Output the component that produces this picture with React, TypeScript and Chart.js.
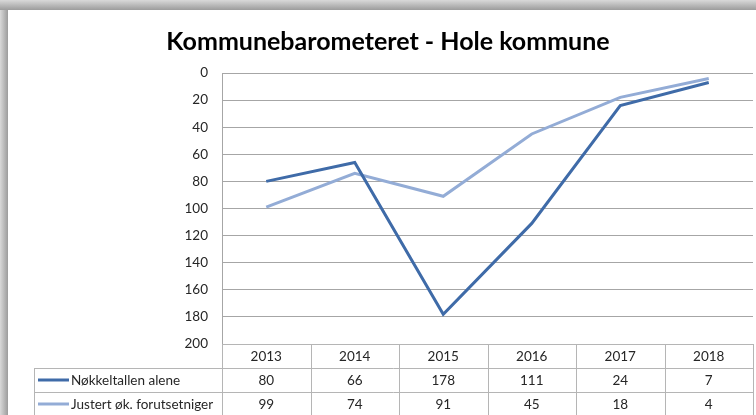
import React, { useEffect, useRef } from "react";
import { Chart, registerables } from "chart.js";

Chart.register(...registerables);

const TITLE = "Kommunebarometeret - Hole kommune";
const years = ["2013", "2014", "2015", "2016", "2017", "2018"];
const seriesNames = ["Nøkkeltallen alene", "Justert øk. forutsetniger"];
const nokkeltall = [80, 66, 178, 111, 24, 7];
const justert = [99, 74, 91, 45, 18, 4];
const seriesColors = ["#3f6ba8", "#93acd6"];

const FONT = "Lato, 'Open Sans', sans-serif";

const framePlugin = {
  id: "frame",
  beforeDraw(chart: any) {
    const { ctx, width, height } = chart;
    ctx.save();
    const gTop = ctx.createLinearGradient(0, 0, 0, 10);
    gTop.addColorStop(0, "#d9d9d9");
    gTop.addColorStop(1, "#9c9c9c");
    ctx.fillStyle = gTop;
    ctx.fillRect(0, 0, width, 10);
    const gLeft = ctx.createLinearGradient(0, 0, 8, 0);
    gLeft.addColorStop(0, "#d9d9d9");
    gLeft.addColorStop(1, "#9c9c9c");
    ctx.fillStyle = gLeft;
    ctx.fillRect(0, 10, 8, height);
    ctx.fillStyle = "#ffffff";
    ctx.fillRect(8, 10, width - 8, height - 10);
    ctx.fillStyle = "#000000";
    ctx.font = `bold 25px ${FONT}`;
    ctx.textAlign = "center";
    ctx.textBaseline = "middle";
    ctx.fillText(TITLE, 388, 42);
    ctx.restore();
  },
};

const tablePlugin = {
  id: "dataTable",
  afterDraw(chart: any) {
    const { ctx } = chart;
    const xs = chart.scales.x;
    const area = chart.chartArea;
    const n = years.length;
    const step = (area.right - area.left) / n;
    const top = area.bottom;
    const rowH = 24;
    const leftEdge = 34;
    const rows = [top, top + rowH, top + 2 * rowH, top + 3 * rowH];
    ctx.save();
    ctx.strokeStyle = "#b5b5b5";
    ctx.lineWidth = 1;
    ctx.beginPath();
    ctx.moveTo(area.left, Math.round(rows[0]) + 0.5);
    ctx.lineTo(area.right, Math.round(rows[0]) + 0.5);
    for (let i = 1; i < 4; i++) {
      ctx.moveTo(leftEdge, Math.round(rows[i]) + 0.5);
      ctx.lineTo(area.right, Math.round(rows[i]) + 0.5);
    }
    for (let k = 0; k <= n; k++) {
      const x = Math.round(area.left + k * step) + 0.5;
      ctx.moveTo(x, rows[0]);
      ctx.lineTo(x, rows[3]);
    }
    ctx.moveTo(leftEdge + 0.5, rows[1]);
    ctx.lineTo(leftEdge + 0.5, rows[3]);
    ctx.stroke();

    ctx.fillStyle = "#262626";
    ctx.font = `13.5px ${FONT}`;
    ctx.textBaseline = "middle";
    ctx.textAlign = "center";
    const data = [nokkeltall, justert];
    years.forEach((y, i) => {
      const cx = xs.getPixelForValue(i);
      ctx.fillText(y, cx, (rows[0] + rows[1]) / 2 + 1);
      ctx.fillText(String(data[0][i]), cx, (rows[1] + rows[2]) / 2 + 1);
      ctx.fillText(String(data[1][i]), cx, (rows[2] + rows[3]) / 2 + 1);
    });
    ctx.textAlign = "left";
    seriesNames.forEach((name, i) => {
      const cy = (rows[i + 1] + rows[i + 2]) / 2;
      ctx.strokeStyle = seriesColors[i];
      ctx.lineWidth = 3;
      ctx.beginPath();
      ctx.moveTo(38, cy);
      ctx.lineTo(69, cy);
      ctx.stroke();
      ctx.fillStyle = "#262626";
      ctx.fillText(name, 71, cy + 1);
    });
    ctx.restore();
  },
};

export default function App() {
  const ref = useRef<HTMLCanvasElement | null>(null);
  useEffect(() => {
    document.body.style.margin = "0";
    const chart = new Chart(ref.current as HTMLCanvasElement, {
      type: "line",
      data: {
        labels: years,
        datasets: [
          {
            label: seriesNames[0],
            data: nokkeltall,
            borderColor: seriesColors[0],
            backgroundColor: seriesColors[0],
            borderWidth: 3,
            pointRadius: 0,
            tension: 0,
          },
          {
            label: seriesNames[1],
            data: justert,
            borderColor: seriesColors[1],
            backgroundColor: seriesColors[1],
            borderWidth: 3,
            pointRadius: 0,
            tension: 0,
          },
        ],
      },
      options: {
        responsive: false,
        animation: false,
        layout: { padding: { left: 0, top: 73, right: 3, bottom: 71 } },
        plugins: {
          legend: { display: false },
          title: { display: false },
          tooltip: { enabled: false },
        },
        scales: {
          x: {
            display: false,
            offset: true,
          },
          y: {
            reverse: true,
            min: 0,
            max: 200,
            ticks: {
              stepSize: 20,
              color: "#262626",
              font: { family: FONT, size: 13.5 },
              padding: 14,
            },
            grid: {
              color: "#a6a6a6",
              drawTicks: false,
            },
            border: { color: "#a6a6a6" },
            afterFit(scale: any) {
              scale.width = 222;
            },
          },
        },
      },
      plugins: [framePlugin, tablePlugin],
    } as any);
    return () => chart.destroy();
  }, []);
  return (
    <div style={{ position: "absolute", left: 0, top: 0, width: 756, height: 415 }}>
      <canvas ref={ref} width={756} height={415} style={{ display: "block" }} />
    </div>
  );
}
